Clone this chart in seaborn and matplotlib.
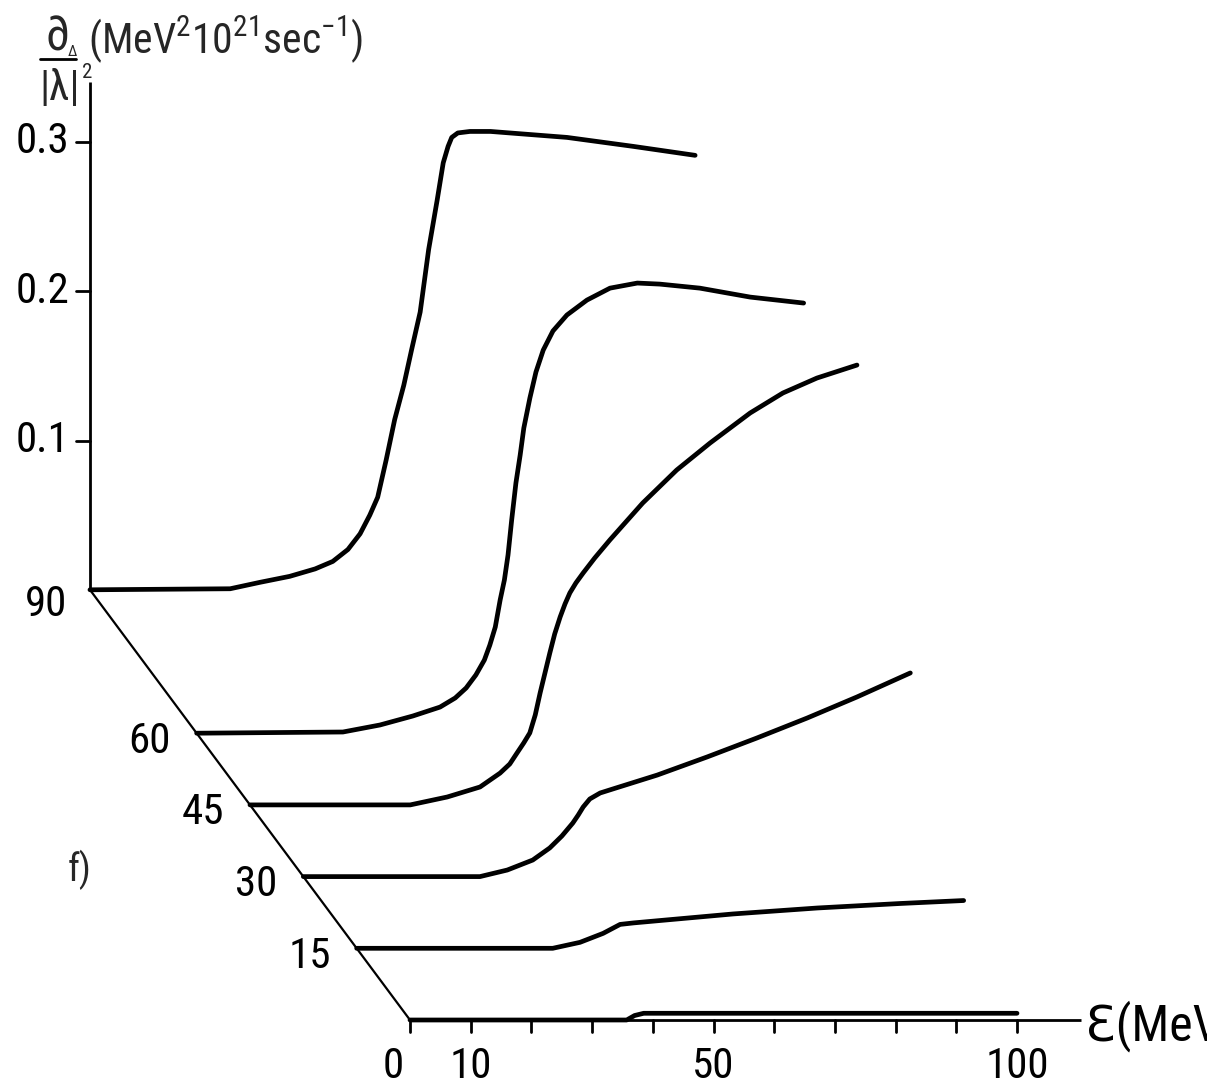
import matplotlib
matplotlib.use("Agg")
import matplotlib.pyplot as plt
import numpy as np
import pandas as pd
import seaborn as sns

# Energy (MeV) and cross section sigma_Delta/|lambda|^2 for each scattering angle
E_0 = [0, 35.7, 37.0, 38.5, 100]
S_0 = [0, 0, 0.003, 0.0045, 0.0045]

E_15 = [0, 32.3, 36.8, 40.6, 43.4, 45.6, 62.0, 75.9, 89.5, 100]
S_15 = [0, 0, 0.004, 0.010, 0.016, 0.017, 0.023, 0.027, 0.030, 0.032]

E_30 = [0, 29.1, 33.6, 37.8, 40.6, 42.6, 44.4, 45.3, 46.1, 47.2, 48.9, 51.0, 58.3, 66.5,
        74.7, 83.0, 91.2, 100]
S_30 = [0, 0, 0.0044, 0.0111, 0.0192, 0.0272, 0.0359, 0.0413, 0.0466, 0.0520, 0.0560,
        0.0587, 0.0680, 0.0801, 0.0928, 0.1062, 0.1203, 0.1364]

E_45 = [0, 26.4, 32.5, 37.9, 41.2, 42.8, 44.0, 45.1, 46.1, 47.0, 47.8, 48.6, 49.4, 50.2,
        51.1, 51.9, 52.7, 53.7, 54.9, 56.8, 59.3, 64.7, 70.3, 75.8, 82.4, 87.8, 93.4, 100]
S_45 = [0, 0, 0.0053, 0.0120, 0.0213, 0.0274, 0.0348, 0.0415, 0.0482, 0.0603, 0.0750,
        0.0884, 0.1018, 0.1145, 0.1259, 0.1346, 0.1420, 0.1487, 0.1554, 0.1654, 0.1775,
        0.2022, 0.2243, 0.2424, 0.2625, 0.2759, 0.2859, 0.2946]

E_60 = [0, 24.1, 30.2, 35.6, 40.1, 42.6, 44.4, 46.0, 47.4, 48.3, 49.2, 50.0, 50.7, 51.3,
        51.9, 52.6, 53.3, 53.9, 54.9, 55.9, 57.1, 58.7, 61.0, 64.3, 68.1, 72.6, 76.3, 82.9,
        91.2, 100]
S_60 = [0, 0.0008, 0.0055, 0.0115, 0.0175, 0.0236, 0.0303, 0.0390, 0.0490, 0.0590, 0.0711,
        0.0892, 0.1026, 0.1194, 0.1428, 0.1676, 0.1863, 0.2044, 0.2245, 0.2419, 0.2566,
        0.2694, 0.2801, 0.2901, 0.2981, 0.3015, 0.3008, 0.2981, 0.2921, 0.2881]

E_90 = [0, 23.1, 28.0, 32.9, 37.1, 40.0, 42.5, 44.5, 46.1, 47.4, 48.8, 50.2, 51.7, 53.0,
        54.4, 55.8, 57.2, 58.2, 59.0, 59.6, 60.6, 62.6, 66.0, 78.6, 89.5, 99.7]
S_90 = [0, 0.0007, 0.005, 0.009, 0.014, 0.019, 0.027, 0.0375, 0.050, 0.062, 0.087, 0.114,
        0.137, 0.161, 0.186, 0.228, 0.261, 0.286, 0.297, 0.303, 0.306, 0.307, 0.307, 0.303,
        0.297, 0.291]

angles = [0, 15, 30, 45, 60, 90]
energies = [E_0, E_15, E_30, E_45, E_60, E_90]
sigmas = [S_0, S_15, S_30, S_45, S_60, S_90]

angle_labels = ["15", "30", "45", "60", "90"]
sigma_ticks = [0.1, 0.2, 0.3]
sigma_tick_labels = ["0.1", "0.2", "0.3"]
energy_ticks = list(range(0, 101, 10))
energy_tick_labels = {0: "0", 10: "10", 50: "50", 100: "100"}

# oblique projection of the angle axis: shift per degree in (E, sigma) units
PX_PER_MEV = 6.07
PX_PER_SIGMA = 1493.0
DE_PER_DEG = -3.556 / PX_PER_MEV
DS_PER_DEG = 4.78 / PX_PER_SIGMA


def project(e, s, theta):
    return np.asarray(e, float) + DE_PER_DEG * theta, np.asarray(s, float) + DS_PER_DEG * theta


rows = []
for th, es, ss in zip(angles, energies, sigmas):
    px, py = project(es, ss, th)
    for e, s, x, y in zip(es, ss, px, py):
        rows.append({"angle": th, "E": e, "sigma": s, "x": x, "y": y})
df = pd.DataFrame(rows)

sns.set_theme(style="white")
FONT = ["Roboto Condensed", "DejaVu Sans"]
plt.rcParams["font.family"] = FONT
plt.rcParams["mathtext.fontset"] = "custom"
plt.rcParams["mathtext.rm"] = "Roboto Condensed"
plt.rcParams["mathtext.it"] = "Roboto Condensed:italic"
plt.rcParams["mathtext.bf"] = "Roboto Condensed:bold"

W, H, DPI = 1207, 1087, 100
fig = plt.figure(figsize=(W / DPI, H / DPI), dpi=DPI)
ax = fig.add_axes([0, 0, 1, 1])
ax.set_xlim(-410 / PX_PER_MEV, (W - 410) / PX_PER_MEV)
ax.set_ylim((1020 - H) / PX_PER_SIGMA, 1020 / PX_PER_SIGMA)
ax.axis("off")

sns.lineplot(data=df, x="x", y="y", hue="angle", palette=["black"] * len(angles),
             units="angle", estimator=None, sort=False, legend=False, ax=ax,
             linewidth=3.4, solid_joinstyle="round", solid_capstyle="round")

axis_kw = dict(color="black", linewidth=2.0, solid_capstyle="butt")
txt_kw = dict(fontsize=31, color="black")

# energy axis
ax.plot([0, 110.5], [0, 0], **axis_kw)
tick_len_s = 12 / PX_PER_SIGMA
for t in energy_ticks:
    ax.plot([t, t], [0, -tick_len_s], color="black", linewidth=2.0)
for t, lab in energy_tick_labels.items():
    dx = -17 if t == 0 else 0
    ax.annotate(lab, (t, 0), xytext=(dx, -46), textcoords="offset pixels",
                ha="center", va="center", **txt_kw)
ax.annotate("Ɛ(MeV)", (110.5, 0), xytext=(4, -6), textcoords="offset pixels",
            ha="left", va="center", annotation_clip=False, fontsize=36, color="black")

# angle axis (oblique)
ax0, ay0 = project([0, 0], [0, 0], np.array([0, 90]))
ax.plot(ax0, ay0, color="black", linewidth=1.6)
for th, lab in zip([15, 30, 45, 60, 90], angle_labels):
    bx, by = project(0, 0, th)
    off = (-44, -15) if th == 90 else (-47, -8)
    ax.annotate(lab, (bx, by), xytext=off, textcoords="offset pixels",
                ha="center", va="center", **txt_kw)

# sigma axis, standing at the 90 degree baseline
vx, vy = project([0, 0], [0, 0.340], 90)
ax.plot(vx, vy, **axis_kw)
tick_len_e = 14 / PX_PER_MEV
for t, lab in zip(sigma_ticks, sigma_tick_labels):
    tx, ty = project(0, t, 90)
    ax.plot([tx - tick_len_e, tx], [ty, ty], color="black", linewidth=2.0)
    ax.annotate(lab, (tx, ty), xytext=(-21, 0), textcoords="offset pixels",
                ha="right", va="center", **txt_kw)


def fig_xy(px, py):
    return px / W, 1 - py / H


# axis title: sigma_Delta / |lambda|^2 (MeV^2 10^21 sec^-1)
fig.text(*fig_xy(57, 38), "∂", fontsize=34, ha="center", va="center")
fig.text(*fig_xy(72, 52), "Δ", fontsize=11, ha="center", va="center")
fig.add_artist(plt.Line2D([40 / W, 76 / W], [1 - 59 / H, 1 - 59 / H], color="black",
                          linewidth=2.0))
fig.text(*fig_xy(60, 88), "|λ|", fontsize=30, ha="center", va="center")
fig.text(*fig_xy(87, 72), "2", fontsize=15, ha="center", va="center")
fig.text(*fig_xy(88, 40), r"(MeV$^{2}$10$^{21}$sec$^{-1}$)", fontsize=30, ha="left",
         va="center")

# panel label
fig.text(*fig_xy(80, 870), "f)", fontsize=27, ha="center", va="center")

fig.savefig("out.png", dpi=DPI)
